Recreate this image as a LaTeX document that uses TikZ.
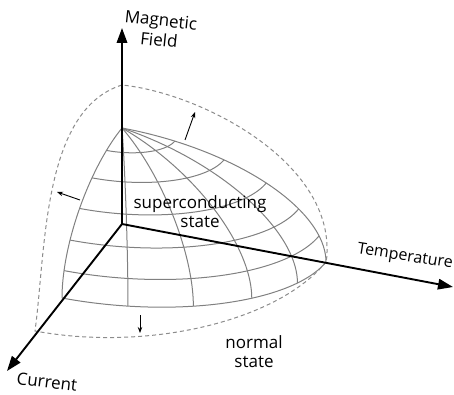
\documentclass[tikz,border=0pt]{standalone}
\usepackage{fontspec}
\setmainfont{Open Sans}
\usetikzlibrary{arrows.meta}

\begin{document}
\begin{tikzpicture}[
  x=1pt, y=-1pt,
  font=\fontsize{17}{19}\selectfont,
  axis/.style={line width=1.9pt, -{Triangle[length=15pt,width=10.5pt]}},
  mesh/.style={line width=1pt, black!50, line join=round},
  outline/.style={line width=1pt, black!45, dash pattern=on 4pt off 3pt},
  push/.style={line width=0.9pt, -{Stealth[length=6pt,width=4.5pt]}}
]
\useasboundingbox (0,0) rectangle (454,395);
\coordinate (O) at (122,224);
\coordinate (Htip) at (122,28);
\coordinate (Ttip) at (453,287);
\coordinate (Itip) at (7,371);
\coordinate (Hbd) at (122,85);
\coordinate (Tbd) at (326,262);

% critical surface: octant of an ellipsoid, T / I / H axes
\begin{scope}[shift={(O)}, x={(204pt,-38pt)}, y={(-60pt,-74pt)}, z={(0pt,96pt)}]
  \foreach \p in {0,18,...,90}
    \draw[mesh] plot[domain=0:90, samples=40, smooth, variable=\t]
      ({cos(\t)*cos(\p)}, {cos(\t)*sin(\p)}, {sin(\t)});
  \foreach \t in {0,15,...,75}
    \draw[mesh] plot[domain=0:90, samples=40, smooth, variable=\p]
      ({cos(\t)*cos(\p)}, {cos(\t)*sin(\p)}, {sin(\t)});
\end{scope}

% shifted boundary
\draw[outline] plot[domain=0:90, samples=40, smooth, variable=\p]
    ({122+204*cos(\p)-87*sin(\p)}, {224+38*cos(\p)+107*sin(\p)})
  .. controls (46,250) and (42,110) .. (Hbd)
  .. controls (200,93) and (330,160) .. (327,252)
  .. controls (327,256) .. (Tbd);

\draw[axis] (O) -- (Htip);
\draw[axis] (O) -- (Ttip);
\draw[axis] (O) -- (Itip);

\coordinate (a1) at (185,140);
\coordinate (a1e) at (195,112);
\coordinate (a2) at (80,200);
\coordinate (a2e) at (57,192);
\coordinate (a3) at (140,315);
\coordinate (a3e) at (140,333);
\draw[push] (a1) -- (a1e);
\draw[push] (a2) -- (a2e);
\draw[push] (a3) -- (a3e);

\node[rotate=-6, align=center, font=\fontsize{17}{20}\selectfont] (hname) at (160,30) {Magnetic\\Field};
\node[rotate=-9, font=\fontsize{16}{19}\selectfont] (tname) at (405,257) {Temperature};
\node[rotate=-7] (iname) at (47,382) {Current};
\node[align=center] (sc) at (200,212) {superconducting\\state};
\node[align=center] (ns) at (254,352) {normal\\state};
\end{tikzpicture}
\end{document}
